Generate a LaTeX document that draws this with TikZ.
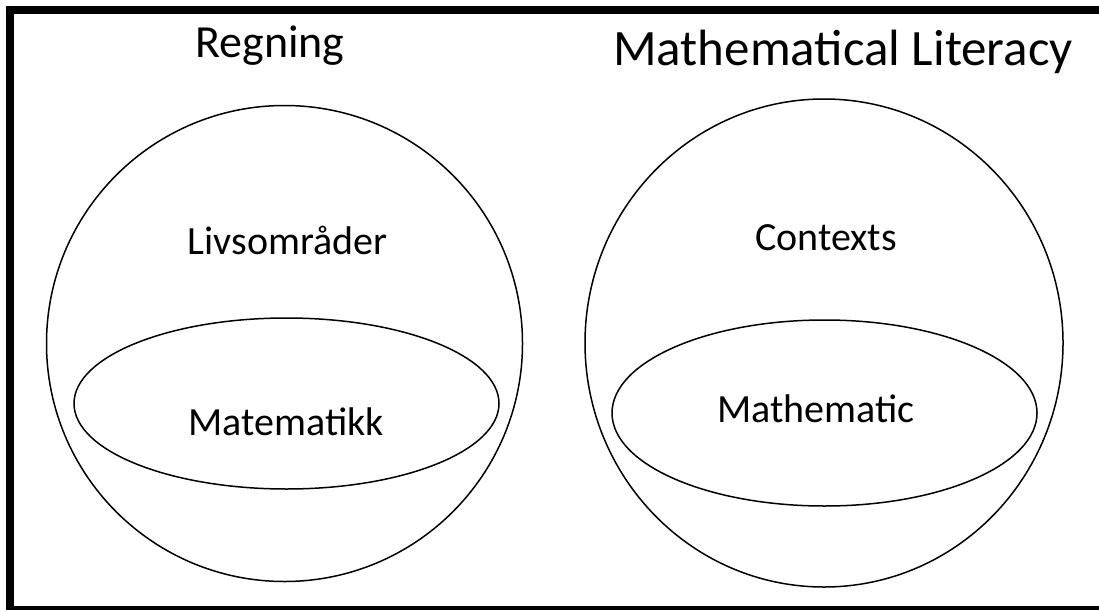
\documentclass[tikz,border=0pt]{standalone}
\usepackage{fontspec}
\setmainfont{Carlito}
\usetikzlibrary{shapes.geometric}

\begin{document}
\begin{tikzpicture}[x=1pt,y=-1pt]
  \tikzstyle{ring}=[draw,line width=1.5pt,inner sep=0pt]
  \tikzstyle{title}=[anchor=base,font=\fontsize{46}{50}\selectfont]
  \tikzstyle{lbl}=[anchor=base,font=\fontsize{40}{44}\selectfont]
  \useasboundingbox (0,0) rectangle (1099,610);
  % frame
  \fill (6,6) rectangle (14,610);
  \fill (6,6) rectangle (1099,14);
  \fill (6,606) rectangle (1099,610);
  % left diagram
  \node[title] (regning) at (270,57) {Regning};
  \node[ring,circle,minimum size=476pt] (livs) at (284.5,343.5) {};
  \node[ring,ellipse,minimum width=425pt,minimum height=171pt] (mat) at (286.5,403.5) {};
  \node[lbl] (livstxt) at (287.5,254) {Livsområder};
  \node[lbl] (mattxt) at (286,435) {Matematikk};
  % right diagram
  \node[title,font=\fontsize{51}{55}\selectfont] (ml) at (843,66) {Mathematical Literacy};
  \node[ring,ellipse,minimum width=478pt,minimum height=488pt] (ctx) at (824,343) {};
  \node[ring,ellipse,minimum width=425pt,minimum height=186pt] (math) at (824.5,413) {};
  \node[lbl] (ctxtxt) at (826,250) {Contexts};
  \node[lbl] (mathtxt) at (816,422) {Mathematic};
\end{tikzpicture}
\end{document}
